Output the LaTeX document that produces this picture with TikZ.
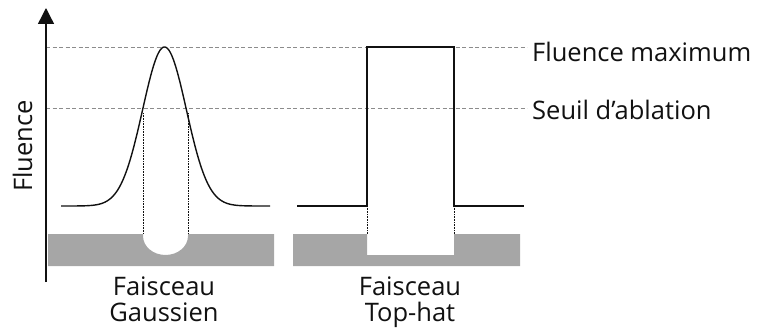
\documentclass[tikz,border=0pt]{standalone}
\usepackage{fontspec}
\setmainfont{Open Sans}
\usetikzlibrary{arrows.meta}
\definecolor{barg}{HTML}{A6A6A6}
\definecolor{dashg}{HTML}{8C8C8C}
\definecolor{ink}{HTML}{111111}
\begin{document}
\begin{tikzpicture}[x=1pt,y=-1pt,
  curve/.style={draw=ink,line width=1.4pt},
  level/.style={draw=dashg,line width=0.9pt,dash pattern=on 4pt off 2.5pt},
  guide/.style={draw=ink,line width=1pt,dash pattern=on 0.8pt off 0.8pt},
  bar/.style={fill=barg,draw=none},
  lab/.style={text=ink,font=\fontsize{25.5}{26}\selectfont,inner sep=0pt},
  beamlab/.style={lab,align=center,anchor=base}]
\useasboundingbox (0,0) rectangle (759,329);
% coordinates
\coordinate (o) at (46,282);
\coordinate (top) at (46,8);
\coordinate (maxL) at (46,47);
\coordinate (maxR) at (527,47);
\coordinate (thrL) at (46,108);
\coordinate (thrR) at (527,108);
% gray bars with their ablation holes
\fill[bar] (48,234) -- (143,234) -- (143,236)
   arc[start angle=180,end angle=0,x radius=22.5,y radius=19]
   -- (188,234) -- (274,234) -- (274,266) -- (48,266) -- cycle;
\fill[bar] (293,234) -- (367,234) -- (367,255) -- (454,255) -- (454,234)
   -- (520,234) -- (520,266) -- (293,266) -- cycle;
% dashed levels
\draw[level] (maxL) -- (maxR);
\draw[level] (thrL) -- (thrR);
% gaussian
\draw[curve] plot[domain=61:270,samples=200,smooth] (\x,{206-159*exp(-((\x-164.5)*(\x-164.5))/955)});
% top-hat
\coordinate (t1) at (297,206);
\coordinate (t2) at (367,206);
\coordinate (t3) at (367,47);
\coordinate (t4) at (454,47);
\coordinate (t5) at (454,206);
\coordinate (t6) at (524,206);
\draw[curve,line join=miter] (t1) -- (t2) -- (t3) -- (t4) -- (t5) -- (t6);
% dotted guides
\coordinate (g1a) at (143,113); \coordinate (g1b) at (143,234);
\coordinate (g2a) at (188,113); \coordinate (g2b) at (188,234);
\coordinate (g3b) at (367,234); \coordinate (g4b) at (454,234);
\draw[guide] (g1a) -- (g1b);
\draw[guide] (g2a) -- (g2b);
\draw[guide] (t2) -- (g3b);
\draw[guide] (t5) -- (g4b);
% axis
\draw[ink,line width=1.4pt,-{Triangle[width=16pt,length=16pt]}] (o) -- (top);
% labels
\node[lab,anchor=base west] (lmax) at (532,61) {Fluence maximum};
\node[lab,anchor=base west] (lthr) at (532,119) {Seuil d’ablation};
\node[lab,rotate=90,anchor=base] (ly) at (32,146) {Fluence};
\node[beamlab] (lg) at (164,321) {Faisceau\\Gaussien};
\node[beamlab] (lt) at (410,321) {Faisceau\\Top-hat};
\end{tikzpicture}
\end{document}
